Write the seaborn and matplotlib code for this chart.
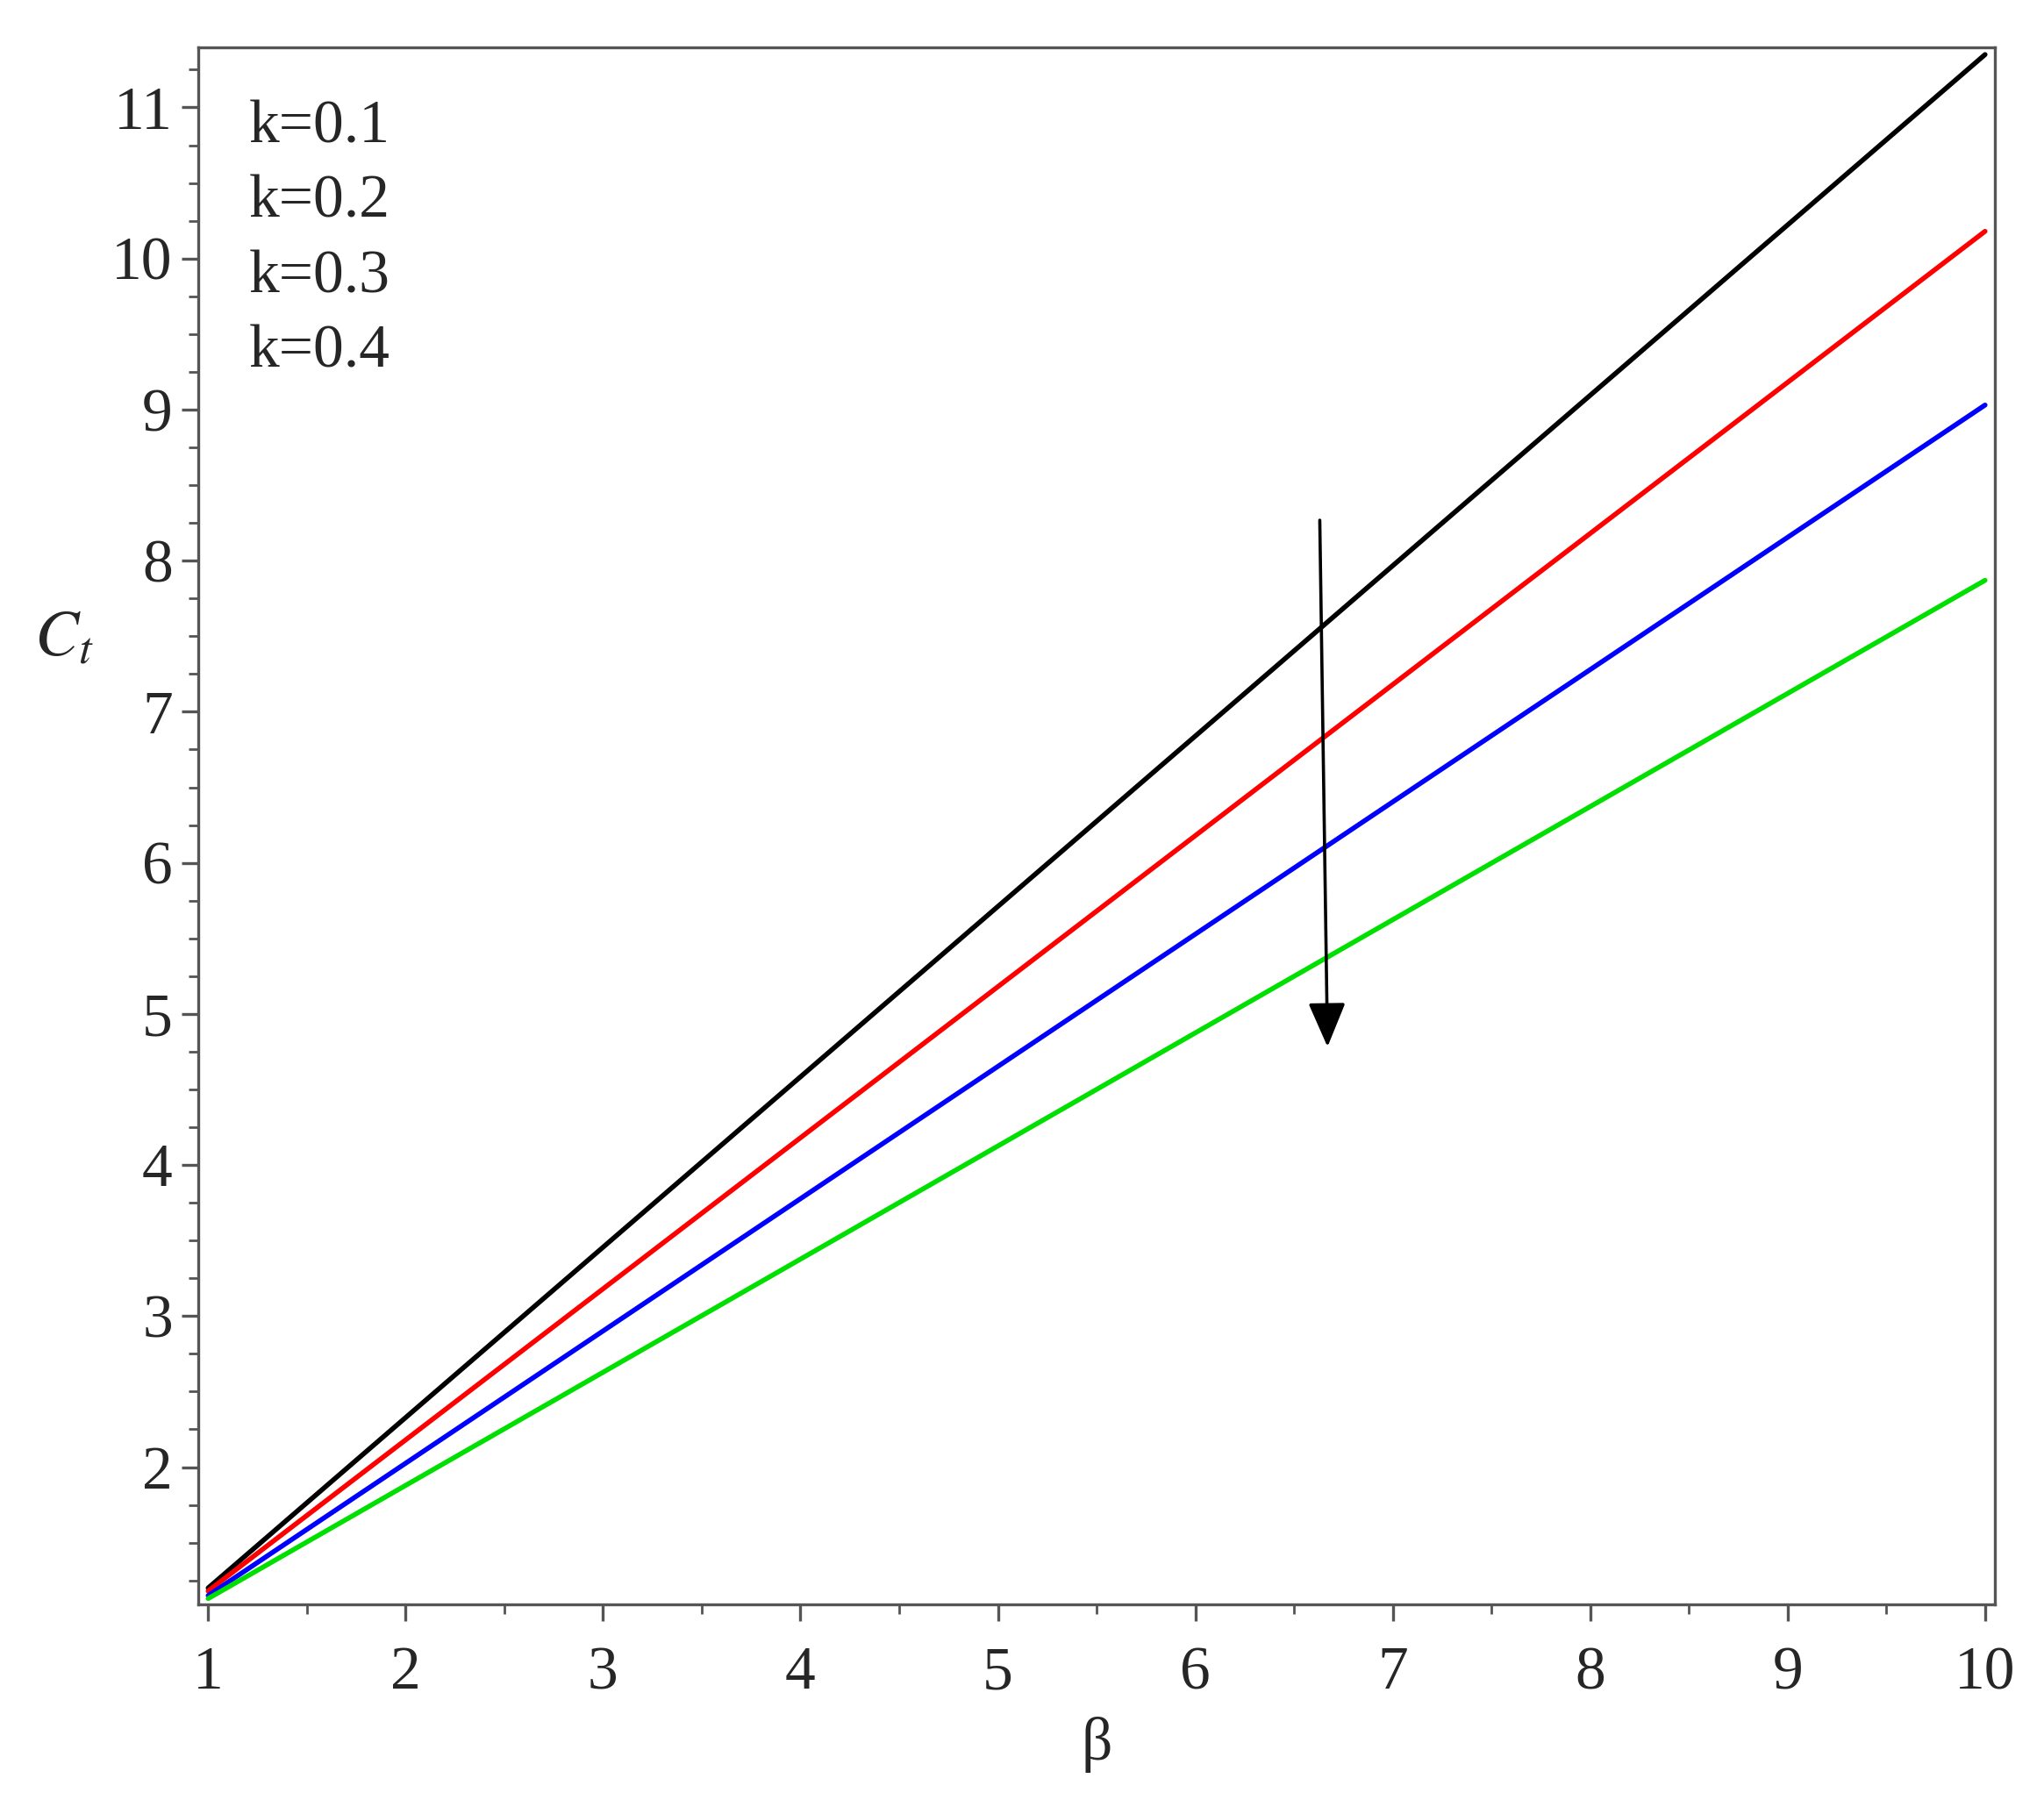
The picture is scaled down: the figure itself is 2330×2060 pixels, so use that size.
import matplotlib
matplotlib.use("Agg")
import matplotlib.pyplot as plt
import seaborn as sns
import pandas as pd

beta = [1, 10]
ct_k01 = [1.20, 11.35]
ct_k02 = [1.18, 10.18]
ct_k03 = [1.15, 9.03]
ct_k04 = [1.13, 7.87]
labels = ["k=0.1", "k=0.2", "k=0.3", "k=0.4"]
colors = ["black", "red", "blue", "#00e000"]

sns.set_theme(style="white")
plt.rcParams['font.family'] = ['Liberation Serif', 'DejaVu Serif']
plt.rcParams['mathtext.fontset'] = 'stix'
fig = plt.figure(figsize=(11.65, 10.3), dpi=200)
ax = fig.add_axes([0.097, 0.112, 0.879, 0.862])

rows = []
for lab, ys in zip(labels, [ct_k01, ct_k02, ct_k03, ct_k04]):
    for x, y in zip(beta, ys):
        rows.append({"beta": x, "Ct": y, "k": lab})
df = pd.DataFrame(rows)
sns.lineplot(data=df, x="beta", y="Ct", hue="k", palette=colors, linewidth=2.0, ax=ax, legend=False)

ax.set_xlim(0.95, 10.05)
ax.set_ylim(1.09, 11.4)
ax.set_xticks(range(1, 11))
ax.set_yticks(range(2, 12))
ax.set_xticks([1 + 0.5 * i for i in range(19)], minor=True)
ax.set_yticks([1.25 + 0.25 * i for i in range(41)], minor=True)
ax.tick_params(axis='both', which='major', direction='out', length=7, width=1.2, labelsize=25, bottom=True, left=True, color='#555555')
ax.tick_params(axis='x', which='major', pad=10)
ax.tick_params(axis='both', which='minor', direction='out', length=4, width=1, bottom=True, left=True, color='#555555')
for s in ax.spines.values():
    s.set_color('#555555')
    s.set_linewidth(1.2)

ax.set_xlabel("β", fontsize=25, labelpad=6)
ax.set_ylabel("$C_t$", fontsize=27, rotation=0, labelpad=14)
ax.yaxis.set_label_coords(-0.075, 0.6)

for i, lab in enumerate(labels):
    ax.text(0.028, 0.948 - i * 0.048, lab, transform=ax.transAxes, fontsize=25, va='center', ha='left')

ax.annotate("", xy=(6.67, 4.75), xytext=(6.63, 8.3),
            arrowprops=dict(arrowstyle="-|>,head_length=1.3,head_width=0.55", color="black", lw=1.3))

fig.savefig("out.png", dpi=200)
